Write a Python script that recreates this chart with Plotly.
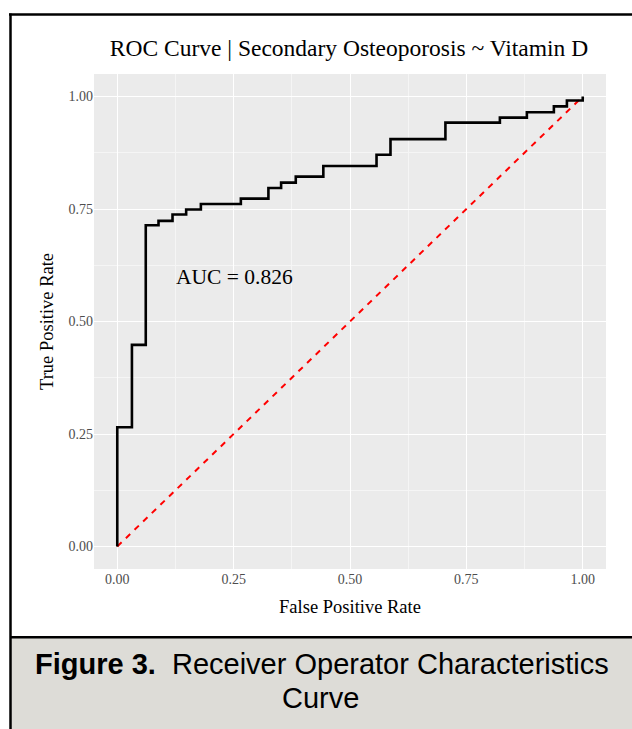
import plotly.graph_objects as go

# ROC curve data
fpr = [0.0, 0.0, 0.0315, 0.0612, 0.0886, 0.1187, 0.148, 0.1796, 0.2655, 0.3247,
       0.352, 0.3835, 0.4427, 0.557, 0.587, 0.705, 0.822, 0.880, 0.938, 0.966, 1.0]
tpr = [0.0, 0.265, 0.448, 0.714, 0.7235, 0.7377, 0.749, 0.761, 0.773, 0.7967,
       0.8086, 0.822, 0.8455, 0.8707, 0.9053, 0.942, 0.953, 0.965, 0.978, 0.991, 1.0]
ref_x = [0.0, 1.0]
ref_y = [0.0, 1.0]
ticks = [0.0, 0.25, 0.5, 0.75, 1.0]
tick_labels = ["0.00", "0.25", "0.50", "0.75", "1.00"]
auc_text = "AUC = 0.826"

W, H = 632, 729
L, R, T, B = 94, 26, 73.5, 159.5
pw, ph = W - L - R, H - T - B

def px(x):
    return (x - L) / pw

def py(y):
    return (H - B - y) / ph

serif = "Liberation Serif, Times New Roman, serif"
sans = "Liberation Sans, Arial, sans-serif"

fig = go.Figure()
fig.add_trace(go.Scatter(x=ref_x, y=ref_y, mode="lines",
                         line=dict(color="#ff0000", width=2, dash="6px,6px"),
                         showlegend=False, hoverinfo="skip"))
fig.add_trace(go.Scatter(x=fpr, y=tpr, mode="lines", line_shape="hv",
                         line=dict(color="black", width=2.6),
                         showlegend=False))

fig.add_annotation(x=0.251, y=0.60, text=auc_text, showarrow=False,
                   font=dict(family=serif, size=21.5, color="black"))

axis_common = dict(
    range=[-0.05, 1.05], tickvals=ticks, ticktext=tick_labels,
    showgrid=True, gridcolor="white", gridwidth=1.3,
    minor=dict(tickvals=[0.125, 0.375, 0.625, 0.875], showgrid=True,
               gridcolor="#f5f5f5", gridwidth=0.7),
    zeroline=False, showline=False,
    ticks="",
    tickfont=dict(family=serif, size=14, color="#4d4d4d"),
)

fig.update_xaxes(**axis_common,
                 title=dict(text="False Positive Rate",
                            font=dict(family=serif, size=18.5, color="black"),
                            standoff=14))
fig.update_yaxes(**axis_common,
                 title=dict(text="True Positive Rate",
                            font=dict(family=serif, size=18.5, color="black"),
                            standoff=10))

shapes = [
    dict(type="rect", xref="paper", yref="paper",
         x0=px(10), x1=px(W + 5), y0=py(638), y1=py(H + 5),
         fillcolor="#dddcd7", line=dict(width=0), layer="below"),
    dict(type="line", xref="paper", yref="paper",
         x0=px(10), x1=px(W + 5), y0=py(638), y1=py(638),
         line=dict(color="black", width=2.5)),
    dict(type="line", xref="paper", yref="paper",
         x0=px(9), x1=px(W + 5), y0=py(14), y1=py(14),
         line=dict(color="black", width=2.5)),
    dict(type="line", xref="paper", yref="paper",
         x0=px(10.5), x1=px(10.5), y0=py(13), y1=py(H + 5),
         line=dict(color="black", width=2.5)),
]

fig.add_annotation(xref="paper", yref="paper", x=px(321.5), y=py(665),
                   text="<b>Figure 3.</b>  Receiver Operator Characteristics",
                   showarrow=False, xanchor="center", yanchor="middle",
                   font=dict(family=sans, size=29, color="black"))
fig.add_annotation(xref="paper", yref="paper", x=px(320.5), y=py(699),
                   text="Curve", showarrow=False, xanchor="center", yanchor="middle",
                   font=dict(family=sans, size=29, color="black"))

fig.update_layout(
    width=W, height=H,
    margin=dict(l=L, r=R, t=T, b=B),
    paper_bgcolor="white", plot_bgcolor="#ebebeb",
    title=dict(text="ROC Curve | Secondary Osteoporosis ~ Vitamin D",
               xref="paper", x=px(349), xanchor="center",
               yref="container", y=1 - 48 / H, yanchor="middle",
               font=dict(family=serif, size=23.5, color="black")),
    shapes=shapes,
)

fig.write_html("out.html")
